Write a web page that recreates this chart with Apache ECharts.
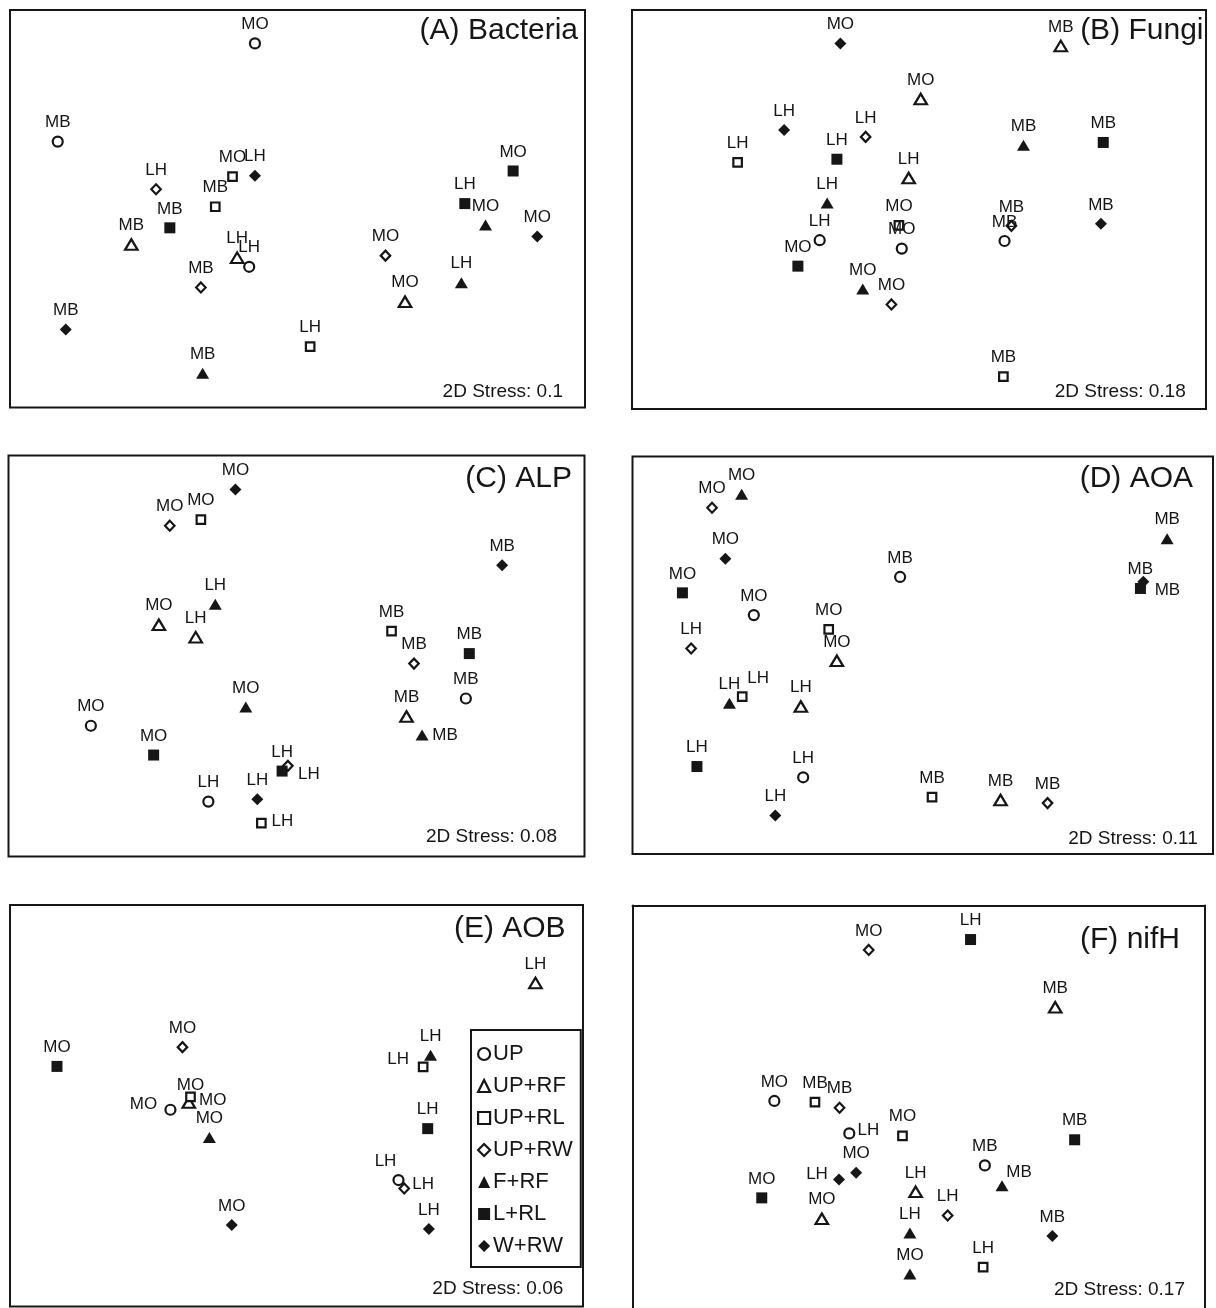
<!DOCTYPE html>
<html>
<head>
<meta charset="utf-8">
<script src="https://cdn.jsdelivr.net/npm/echarts@6/dist/echarts.min.js"></script>
<style>
html,body{margin:0;padding:0;background:#fff;}
#chart{width:1216px;height:1308px;}
</style>
</head>
<body>
<div id="chart"></div>
<script>
// ---- Data (NMDS scores, rescaled 0-100 per panel) ----
const treatments = ['UP','UP+RF','UP+RL','UP+RW','F+RF','L+RL','W+RW'];
const panelTitles = ['(A) Bacteria','(B) Fungi','(C) ALP','(D) AOA','(E) AOB','(F) nifH'];
const stressValues = ['0.1','0.18','0.08','0.11','0.06','0.17'];

const A_x = [42.6, 8.3, 25.4, 38.7, 42.6, 35.7, 27.8, 21.1, 39.5, 41.6, 33.2, 9.7, 33.5, 52.2, 65.3, 68.7, 78.5, 87.5, 79.1, 82.7, 91.7];
const A_y = [91.6, 66.9, 54.9, 58.1, 58.3, 50.5, 45.2, 41.0, 37.7, 35.4, 30.2, 19.6, 8.6, 15.3, 38.2, 26.6, 31.4, 59.5, 51.3, 45.9, 43.0];
const A_trt = ['UP','UP','UP+RW','UP+RL','W+RW','UP+RL','L+RL','UP+RF','UP+RF','UP','UP+RW','W+RW','F+RF','UP+RL','UP+RW','UP+RF','F+RF','L+RL','L+RL','F+RF','W+RW'];
const A_site = ['MO','MB','LH','MO','LH','MB','MB','MB','LH','LH','MB','MB','MB','LH','MO','MO','LH','MO','LH','MO','MO'];

const B_x = [36.3, 74.7, 50.3, 26.5, 40.7, 18.4, 35.7, 48.2, 68.2, 82.1, 34.0, 46.5, 47.0, 32.7, 28.9, 66.1, 64.9, 81.7, 40.2, 45.2, 64.7];
const B_y = [91.6, 91.0, 77.7, 69.9, 68.2, 61.8, 62.6, 57.9, 66.1, 66.8, 51.6, 46.0, 40.2, 42.3, 35.8, 45.9, 42.1, 46.4, 30.1, 26.2, 8.1];
const B_trt = ['W+RW','UP+RF','UP+RF','W+RW','UP+RW','UP+RL','L+RL','UP+RF','F+RF','L+RL','F+RF','UP+RL','UP','UP','L+RL','UP+RW','UP','W+RW','F+RF','UP+RW','UP+RL'];
const B_site = ['MO','MB','MO','LH','LH','LH','LH','LH','MB','MB','LH','MO','MO','LH','MO','MB','MB','MB','MO','MO','MB'];

const C_x = [39.4, 28.0, 33.4, 85.7, 35.9, 26.1, 32.5, 66.5, 70.4, 80.0, 79.4, 41.2, 14.3, 69.1, 71.8, 25.2, 47.5, 48.5, 34.7, 43.2, 43.9];
const C_y = [91.5, 82.5, 84.0, 72.6, 62.9, 57.8, 54.7, 56.2, 48.1, 50.6, 39.4, 37.3, 32.6, 34.9, 30.3, 25.3, 21.3, 22.6, 13.7, 14.3, 8.3];
const C_trt = ['W+RW','UP+RW','UP+RL','W+RW','F+RF','UP+RF','UP+RF','UP+RL','UP+RW','L+RL','UP','F+RF','UP','UP+RF','F+RF','L+RL','L+RL','UP+RW','UP','W+RW','UP+RL'];
const C_site = ['MO','MO','MO','MB','LH','MO','LH','MB','MB','MB','MB','MO','MO','MB','MB','MO','LH','LH','LH','LH','LH'];

const D_x = [13.7, 18.8, 16.0, 8.6, 20.9, 46.1, 33.8, 35.2, 10.1, 16.7, 18.9, 29.0, 11.1, 29.4, 24.6, 51.6, 63.4, 71.5, 92.1, 88.0, 87.5];
const D_y = [87.1, 90.5, 74.3, 65.7, 60.1, 69.7, 56.5, 48.6, 51.7, 37.9, 39.6, 37.1, 22.0, 19.3, 9.7, 14.3, 13.6, 12.8, 79.3, 68.5, 66.8];
const D_trt = ['UP+RW','F+RF','W+RW','L+RL','UP','UP','UP+RL','UP+RF','UP+RW','F+RF','UP+RL','UP+RF','L+RL','UP','W+RW','UP+RL','UP+RF','UP+RW','F+RF','W+RW','L+RL'];
const D_site = ['MO','MO','MO','MO','MO','MB','MO','MO','LH','LH','LH','LH','LH','LH','LH','MB','MB','MB','MB','MB','MB'];

const E_x = [8.2, 30.1, 28.0, 31.5, 31.2, 34.8, 38.7, 91.7, 73.4, 72.1, 72.9, 67.8, 68.8, 73.1];
const E_y = [59.8, 64.6, 49.0, 52.2, 50.8, 42.1, 20.3, 80.6, 62.6, 59.7, 44.3, 31.5, 29.4, 19.3];
const E_trt = ['L+RL','UP+RW','UP','UP+RL','UP+RF','F+RF','W+RW','UP+RF','F+RF','UP+RL','L+RL','UP','UP+RW','W+RW'];
const E_site = ['MO','MO','MO','MO','MO','MO','MO','LH','LH','LH','LH','LH','LH','LH'];

const F_x = [41.3, 59.1, 73.9, 24.8, 31.9, 36.2, 37.9, 47.2, 39.1, 36.1, 22.6, 33.1, 49.5, 55.1, 48.5, 48.5, 61.3, 61.6, 64.6, 77.3, 73.4];
const F_y = [88.9, 91.5, 74.6, 51.2, 50.9, 49.5, 43.1, 42.5, 33.3, 31.6, 27.0, 21.8, 28.5, 22.6, 18.2, 8.0, 9.7, 35.1, 30.0, 41.5, 17.5];
const F_trt = ['UP+RW','L+RL','UP+RF','UP','UP+RL','UP+RW','UP','UP+RL','W+RW','W+RW','L+RL','UP+RF','UP+RF','UP+RW','F+RF','F+RF','UP+RL','UP','F+RF','L+RL','W+RW'];
const F_site = ['MO','LH','MB','MO','MB','MB','LH','MO','MO','LH','MO','MO','LH','LH','LH','MO','LH','MB','MB','MB','MB'];

// ---- Layout / style configuration ----
const FONT = 'Liberation Sans, Arial, Helvetica, sans-serif';
const INK = '#161616';
// [left, top, right, bottom] of each panel frame (panel F is cut by the page edge)
const panelBoxes = [[10,10,585,407.5],[632,10,1206,409],[8.5,455.5,584.5,856.5],[632.5,456.5,1213,854],[10,905,583,1306.5],[632.5,905.5,1204.5,1308]];
const panelYMin = [0,0,0,0,0,-0.5];
const openBottom = [false,false,false,false,false,true];
const titleRight = [578,1203.5,572,1193,565.6,1180];
const titleMid = [30.3,31,478.7,479,929,940];
const stressRight = [563,1185.7,557,1197.7,563.3,1185];
const stressMid = [391.7,391.7,837,839,1289,1290];
const defaultLabelOffset = [0,-19];
const labelOffsets = [
  {},
  {},
  {14:[23,0], 17:[21,8], 20:[21,-2]},
  {10:[16,-18], 19:[-3,-12], 20:[27,2]},
  {2:[-27,-5], 3:[0,-12], 4:[24,-2], 9:[-25,-7], 11:[-13,-19], 12:[19,-4]},
  {6:[19,-3], 9:[-22,-5], 18:[17,-14]}
];
const symbolStyles = {
  'UP':    {symbol:'circle',   size:10,         filled:false},
  'UP+RF': {symbol:'triangle', size:[12.5,10.5],filled:false},
  'UP+RL': {symbol:'rect',     size:8.5,        filled:false},
  'UP+RW': {symbol:'diamond',  size:[9.5,10],   filled:false},
  'F+RF':  {symbol:'triangle', size:[13,11],    filled:true},
  'L+RL':  {symbol:'rect',     size:11,         filled:true},
  'W+RW':  {symbol:'diamond',  size:12,         filled:true}
};

const panelData = [
  [A_x, A_y, A_trt, A_site],
  [B_x, B_y, B_trt, B_site],
  [C_x, C_y, C_trt, C_site],
  [D_x, D_y, D_trt, D_site],
  [E_x, E_y, E_trt, E_site],
  [F_x, F_y, F_trt, F_site]
];

const W = 1216;
const frameLine = {show:true, onZero:false, lineStyle:{color:INK, width:2}};
const grids = [], xAxes = [], yAxes = [], titles = [], series = [];
panelBoxes.forEach((b, p) => {
  const open = openBottom[p];
  grids.push({left:b[0], top:b[1], width:b[2]-b[0], height:b[3]-b[1], show:!open,
    borderColor:INK, borderWidth:2, backgroundColor:'transparent', containLabel:false});
  const hidden = {axisTick:{show:false}, axisLabel:{show:false}, splitLine:{show:false}};
  if (open) {
    xAxes.push(Object.assign({type:'value', gridIndex:p, min:0, max:100, position:'top', axisLine:frameLine}, hidden));
    yAxes.push(Object.assign({type:'value', gridIndex:p, min:panelYMin[p], max:100, position:'left', axisLine:frameLine}, hidden));
  } else {
    xAxes.push({type:'value', gridIndex:p, min:0, max:100, show:false});
    yAxes.push({type:'value', gridIndex:p, min:panelYMin[p], max:100, show:false});
  }
  titles.push({text:panelTitles[p], right:W - titleRight[p], top:titleMid[p]-15, padding:0,
    textStyle:{fontSize:30, fontWeight:'normal', fontFamily:FONT, color:INK}});
  titles.push({text:'2D Stress: ' + stressValues[p], right:W - stressRight[p], top:stressMid[p]-9.5, padding:0,
    textStyle:{fontSize:19, fontWeight:'normal', fontFamily:FONT, color:INK}});
  const [xs, ys, trts, sites] = panelData[p];
  treatments.forEach(t => {
    const st = symbolStyles[t];
    const data = [];
    xs.forEach((x, i) => {
      if (trts[i] !== t) return;
      const off = labelOffsets[p][i] || defaultLabelOffset;
      data.push({value:[x, ys[i]], name:sites[i], label:{offset:off}});
    });
    series.push({
      type:'scatter', name:t, xAxisIndex:p, yAxisIndex:p,
      symbol:st.symbol, symbolSize:st.size,
      itemStyle:{color: st.filled ? INK : '#ffffff', borderColor:INK, borderWidth: st.filled ? 0 : 2.2, opacity:1},
      emphasis:{disabled:true},
      label:{show:true, position:'inside', formatter:'{b}', fontSize:17, fontFamily:FONT, color:INK},
      data:data
    });
  });
});
// right-hand frame line for the open-bottom panel
panelBoxes.forEach((b, p) => {
  if (!openBottom[p]) return;
  yAxes.push({type:'value', gridIndex:p, min:panelYMin[p], max:100, position:'right', axisLine:frameLine,
    axisTick:{show:false}, axisLabel:{show:false}, splitLine:{show:false}});
});

const chart = echarts.init(document.getElementById('chart'), null, {renderer:'canvas'});
chart.setOption({
  animation:false,
  backgroundColor:'#ffffff',
  title:titles,
  grid:grids,
  xAxis:xAxes,
  yAxis:yAxes,
  legend:{
    data:treatments.map(t => ({name:t, itemStyle:{borderWidth: symbolStyles[t].filled ? 0 : 2.2}})),
    orient:'vertical', left:471, top:1030,
    padding:[13,8,10,6], itemGap:10, itemWidth:12, itemHeight:12,
    borderColor:INK, borderWidth:2, selectedMode:false,
    textStyle:{fontSize:22, lineHeight:22, fontFamily:FONT, color:INK, padding:[0,0,0,-2]}
  },
  series:series
});
</script>
</body>
</html>
